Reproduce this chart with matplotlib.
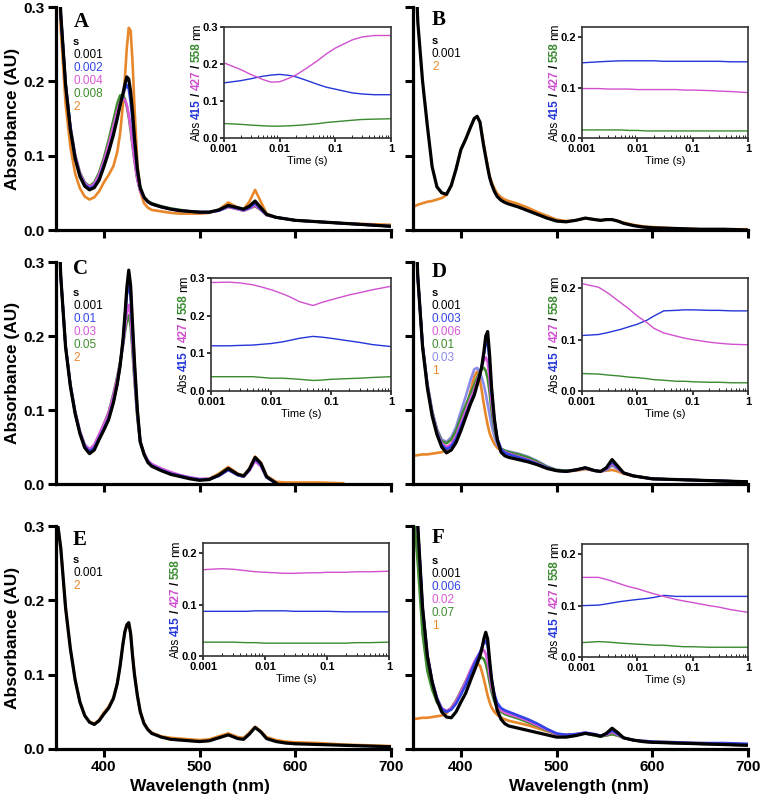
import numpy as np
import matplotlib
matplotlib.use('Agg')
import matplotlib.pyplot as plt
import matplotlib.transforms as mtransforms
from matplotlib.ticker import LogLocator, NullFormatter

nan = np.nan

# --- Data: spectra (absorbance vs wavelength)
wavelength = [350, 355, 360, 365, 370, 375, 380, 385, 390, 395, 400, 405, 410, 414, 417, 420,
              422, 424, 426, 428, 430, 432, 435, 438, 442, 446, 450, 460, 470, 480, 490, 500,
              510, 520, 530, 540, 546, 552, 558, 564, 570, 580, 590, 600, 625, 650, 675, 700]

A_black = [0.45, 0.29, 0.195, 0.135, 0.096, 0.072, 0.059, 0.054, 0.057, 0.067, 0.085, 0.105, 0.128, 0.150, 0.168, 0.184,
           0.196, 0.206, 0.203, 0.186, 0.158, 0.124, 0.082, 0.057, 0.044, 0.038, 0.035, 0.031, 0.028, 0.026, 0.025, 0.024,
           0.024, 0.027, 0.033, 0.030, 0.028, 0.032, 0.039, 0.030, 0.021, 0.017, 0.015, 0.013, 0.011, 0.009, 0.007, 0.005]
A_blue = [0.45, 0.29, 0.196, 0.137, 0.098, 0.074, 0.061, 0.056, 0.059, 0.069, 0.087, 0.107, 0.130, 0.151, 0.168, 0.182,
          0.190, 0.195, 0.190, 0.172, 0.146, 0.115, 0.078, 0.056, 0.044, 0.038, 0.035, 0.031, 0.028, 0.026, 0.025, 0.024,
          0.024, 0.026, 0.032, 0.029, 0.027, 0.030, 0.036, 0.028, 0.021, 0.017, 0.015, 0.013, 0.011, 0.009, 0.007, 0.005]
A_magenta = [0.45, 0.29, 0.197, 0.139, 0.100, 0.076, 0.063, 0.058, 0.062, 0.074, 0.093, 0.115, 0.140, 0.160, 0.172, 0.177,
             0.175, 0.168, 0.155, 0.137, 0.115, 0.094, 0.068, 0.052, 0.043, 0.038, 0.035, 0.031, 0.028, 0.026, 0.025, 0.024,
             0.024, 0.026, 0.031, 0.028, 0.026, 0.029, 0.033, 0.027, 0.020, 0.017, 0.015, 0.013, 0.011, 0.009, 0.007, 0.005]
A_green = [0.45, 0.29, 0.198, 0.140, 0.101, 0.077, 0.064, 0.059, 0.064, 0.077, 0.097, 0.121, 0.148, 0.170, 0.181, 0.181,
           0.176, 0.166, 0.152, 0.134, 0.113, 0.093, 0.068, 0.053, 0.044, 0.039, 0.036, 0.032, 0.029, 0.027, 0.025, 0.024,
           0.024, 0.026, 0.031, 0.028, 0.026, 0.029, 0.032, 0.027, 0.020, 0.017, 0.015, 0.013, 0.011, 0.009, 0.007, 0.005]
A_orange = [0.45, 0.27, 0.17, 0.112, 0.076, 0.056, 0.045, 0.041, 0.044, 0.052, 0.064, 0.074, 0.086, 0.105, 0.130, 0.170,
            0.205, 0.245, 0.272, 0.268, 0.225, 0.165, 0.090, 0.052, 0.036, 0.030, 0.027, 0.025, 0.023, 0.022, 0.022, 0.022,
            0.023, 0.027, 0.037, 0.030, 0.028, 0.038, 0.054, 0.038, 0.022, 0.017, 0.015, 0.013, 0.011, 0.009, 0.008, 0.007]

B_black = [0.45, 0.28, 0.2, 0.14, 0.085, 0.058, 0.05, 0.048, 0.06, 0.082, 0.108, 0.122, 0.138, 0.150, 0.153, 0.145,
           0.128, 0.112, 0.098, 0.084, 0.071, 0.062, 0.052, 0.045, 0.040, 0.037, 0.035, 0.031, 0.026, 0.021, 0.016, 0.012,
           0.011, 0.013, 0.016, 0.014, 0.013, 0.014, 0.014, 0.012, 0.009, 0.006, 0.004, 0.003, 0.002, 0.001, 0.001, 0.0]
B_orange = [0.031, 0.034, 0.036, 0.038, 0.039, 0.041, 0.043, 0.047, 0.06, 0.082, 0.108, 0.122, 0.138, 0.150, 0.152, 0.145,
            0.130, 0.115, 0.100, 0.086, 0.073, 0.065, 0.056, 0.049, 0.044, 0.041, 0.039, 0.035, 0.030, 0.024, 0.019, 0.014,
            0.012, 0.013, 0.016, 0.014, 0.013, 0.014, 0.014, 0.012, 0.010, 0.007, 0.005, 0.004, 0.002, 0.001, 0.001, 0.001]

C_black = [0.45, 0.28, 0.185, 0.132, 0.095, 0.068, 0.049, 0.041, 0.046, 0.060, 0.073, 0.087, 0.110, 0.135, 0.160, 0.195,
           0.228, 0.265, 0.289, 0.268, 0.215, 0.165, 0.100, 0.057, 0.040, 0.029, 0.024, 0.018, 0.013, 0.010, 0.007, 0.005,
           0.006, 0.012, 0.021, 0.013, 0.011, 0.020, 0.036, 0.028, 0.010, 0.001, nan, nan, nan, nan, nan, nan]
C_blue = [0.45, 0.28, 0.186, 0.133, 0.096, 0.069, 0.051, 0.044, 0.049, 0.062, 0.075, 0.089, 0.112, 0.136, 0.160, 0.192,
          0.222, 0.255, 0.272, 0.252, 0.205, 0.158, 0.097, 0.057, 0.040, 0.030, 0.025, 0.019, 0.014, 0.011, 0.008, 0.006,
          0.006, 0.011, 0.019, 0.012, 0.010, 0.019, 0.034, 0.026, 0.009, 0.001, nan, nan, nan, nan, nan, nan]
C_magenta = [0.45, 0.28, 0.187, 0.135, 0.098, 0.071, 0.053, 0.047, 0.053, 0.067, 0.081, 0.096, 0.120, 0.143, 0.163, 0.188,
             0.210, 0.232, 0.242, 0.226, 0.186, 0.145, 0.092, 0.057, 0.042, 0.032, 0.027, 0.021, 0.016, 0.012, 0.009, 0.007,
             0.007, 0.011, 0.019, 0.012, 0.010, 0.018, 0.031, 0.024, 0.009, 0.001, nan, nan, nan, nan, nan, nan]
C_green = [0.45, 0.28, 0.187, 0.135, 0.098, 0.071, 0.053, 0.046, 0.052, 0.066, 0.081, 0.097, 0.122, 0.145, 0.165, 0.187,
           0.205, 0.220, 0.228, 0.213, 0.177, 0.139, 0.089, 0.056, 0.041, 0.031, 0.026, 0.020, 0.015, 0.011, 0.008, 0.006,
           0.007, 0.011, 0.020, 0.012, 0.010, 0.019, 0.033, 0.025, 0.009, 0.001, nan, nan, nan, nan, nan, nan]
C_orange = [0.45, 0.28, 0.186, 0.133, 0.096, 0.069, 0.050, 0.042, 0.047, 0.060, 0.074, 0.088, 0.111, 0.136, 0.160, 0.195,
            0.226, 0.262, 0.285, 0.265, 0.213, 0.164, 0.100, 0.058, 0.041, 0.030, 0.025, 0.019, 0.014, 0.011, 0.008, 0.006,
            0.007, 0.014, 0.023, 0.014, 0.011, 0.021, 0.037, 0.029, 0.011, 0.003, 0.002, 0.002, 0.002, 0.001, nan, nan]

D_black = [0.45, 0.28, 0.185, 0.130, 0.092, 0.067, 0.050, 0.042, 0.046, 0.056, 0.072, 0.090, 0.108, 0.120, 0.134, 0.148,
           0.160, 0.178, 0.200, 0.206, 0.175, 0.132, 0.088, 0.060, 0.043, 0.038, 0.036, 0.033, 0.030, 0.026, 0.021, 0.018,
           0.017, 0.019, 0.022, 0.018, 0.017, 0.022, 0.033, 0.024, 0.015, 0.011, 0.009, 0.007, 0.006, 0.005, 0.004, 0.003]
D_blue = [0.45, 0.28, 0.186, 0.132, 0.094, 0.069, 0.053, 0.047, 0.051, 0.061, 0.077, 0.093, 0.110, 0.122, 0.135, 0.148,
          0.160, 0.175, 0.190, 0.193, 0.165, 0.126, 0.087, 0.062, 0.047, 0.042, 0.040, 0.036, 0.032, 0.027, 0.022, 0.018,
          0.017, 0.019, 0.022, 0.018, 0.017, 0.021, 0.030, 0.022, 0.015, 0.011, 0.009, 0.007, 0.006, 0.005, 0.004, 0.003]
D_magenta = [0.45, 0.28, 0.187, 0.134, 0.096, 0.071, 0.055, 0.050, 0.054, 0.065, 0.082, 0.098, 0.115, 0.127, 0.139, 0.150,
             0.159, 0.167, 0.171, 0.165, 0.142, 0.112, 0.080, 0.060, 0.047, 0.043, 0.041, 0.037, 0.033, 0.028, 0.022, 0.018,
             0.017, 0.019, 0.021, 0.018, 0.017, 0.020, 0.028, 0.021, 0.015, 0.011, 0.009, 0.007, 0.006, 0.005, 0.004, 0.003]
D_green = [0.45, 0.28, 0.188, 0.135, 0.098, 0.073, 0.058, 0.055, 0.060, 0.072, 0.090, 0.106, 0.122, 0.134, 0.144, 0.152,
           0.156, 0.157, 0.153, 0.143, 0.124, 0.100, 0.074, 0.058, 0.048, 0.045, 0.043, 0.040, 0.036, 0.030, 0.023, 0.019,
           0.018, 0.019, 0.021, 0.018, 0.017, 0.020, 0.027, 0.021, 0.015, 0.011, 0.009, 0.007, 0.006, 0.005, 0.004, 0.003]
D_lavender = [0.45, 0.28, 0.188, 0.136, 0.099, 0.074, 0.060, 0.057, 0.063, 0.077, 0.098, 0.118, 0.140, 0.155, 0.157, 0.150,
              0.143, 0.134, 0.122, 0.108, 0.094, 0.080, 0.064, 0.053, 0.047, 0.045, 0.044, 0.041, 0.037, 0.031, 0.024, 0.019,
              0.018, 0.019, 0.021, 0.018, 0.017, 0.019, 0.025, 0.020, 0.015, 0.011, 0.009, 0.007, 0.006, 0.005, 0.004, 0.003]
D_orange = [0.038, 0.039, 0.040, 0.040, 0.041, 0.042, 0.043, 0.046, 0.053, 0.065, 0.080, 0.098, 0.125, 0.145, 0.152, 0.140,
            0.125, 0.108, 0.093, 0.080, 0.069, 0.062, 0.054, 0.049, 0.045, 0.043, 0.041, 0.037, 0.033, 0.028, 0.022, 0.018,
            0.017, 0.018, 0.020, 0.018, 0.017, 0.018, 0.019, 0.017, 0.014, 0.011, 0.009, 0.007, 0.006, 0.005, 0.004, 0.003]

E_black = [0.32, 0.27, 0.19, 0.135, 0.093, 0.063, 0.045, 0.036, 0.033, 0.038, 0.047, 0.055, 0.068, 0.088, 0.112, 0.142,
           0.158, 0.167, 0.170, 0.155, 0.125, 0.100, 0.072, 0.050, 0.034, 0.026, 0.021, 0.016, 0.013, 0.012, 0.011, 0.010,
           0.011, 0.015, 0.019, 0.014, 0.013, 0.020, 0.029, 0.023, 0.014, 0.010, 0.008, 0.007, 0.006, 0.005, 0.004, 0.003]
E_orange = [0.32, 0.27, 0.19, 0.135, 0.093, 0.063, 0.045, 0.037, 0.034, 0.039, 0.049, 0.057, 0.069, 0.088, 0.112, 0.141,
            0.157, 0.166, 0.169, 0.155, 0.126, 0.101, 0.073, 0.051, 0.035, 0.027, 0.022, 0.017, 0.015, 0.014, 0.013, 0.012,
            0.013, 0.017, 0.021, 0.016, 0.015, 0.022, 0.030, 0.024, 0.016, 0.012, 0.010, 0.009, 0.008, 0.006, 0.005, 0.004]

F_black = [0.40, 0.30, 0.190, 0.125, 0.090, 0.066, 0.050, 0.043, 0.042, 0.050, 0.063, 0.075, 0.092, 0.105, 0.115, 0.125,
           0.135, 0.148, 0.157, 0.148, 0.120, 0.095, 0.070, 0.052, 0.040, 0.034, 0.031, 0.028, 0.025, 0.022, 0.019, 0.016,
           0.016, 0.018, 0.021, 0.019, 0.017, 0.021, 0.028, 0.022, 0.015, 0.012, 0.010, 0.009, 0.008, 0.007, 0.006, 0.005]
F_blue = [0.40, 0.30, 0.190, 0.126, 0.091, 0.068, 0.054, 0.050, 0.053, 0.061, 0.073, 0.086, 0.102, 0.114, 0.122, 0.130,
          0.137, 0.143, 0.146, 0.138, 0.115, 0.094, 0.074, 0.062, 0.055, 0.052, 0.050, 0.045, 0.040, 0.034, 0.027, 0.021,
          0.019, 0.020, 0.022, 0.020, 0.018, 0.020, 0.025, 0.020, 0.015, 0.012, 0.011, 0.010, 0.009, 0.008, 0.008, 0.007]
F_magenta = [0.40, 0.30, 0.190, 0.127, 0.092, 0.069, 0.055, 0.051, 0.055, 0.064, 0.077, 0.090, 0.106, 0.117, 0.124, 0.130,
             0.133, 0.133, 0.128, 0.118, 0.100, 0.084, 0.068, 0.058, 0.052, 0.049, 0.047, 0.043, 0.038, 0.032, 0.026, 0.020,
             0.019, 0.020, 0.022, 0.019, 0.018, 0.019, 0.023, 0.019, 0.015, 0.012, 0.010, 0.009, 0.008, 0.007, 0.006, 0.005]
F_green = [0.33, 0.25, 0.155, 0.105, 0.080, 0.063, 0.054, 0.050, 0.055, 0.065, 0.078, 0.091, 0.105, 0.114, 0.119, 0.122,
           0.123, 0.121, 0.115, 0.104, 0.090, 0.077, 0.064, 0.056, 0.050, 0.047, 0.045, 0.041, 0.036, 0.031, 0.025, 0.020,
           0.019, 0.019, 0.021, 0.018, 0.017, 0.018, 0.020, 0.018, 0.015, 0.012, 0.010, 0.009, 0.008, 0.007, 0.006, 0.005]
F_orange = [0.040, 0.041, 0.042, 0.042, 0.043, 0.044, 0.045, 0.048, 0.055, 0.065, 0.075, 0.088, 0.100, 0.110, 0.116, 0.112,
            0.104, 0.094, 0.083, 0.072, 0.063, 0.056, 0.050, 0.046, 0.042, 0.040, 0.038, 0.035, 0.032, 0.028, 0.024, 0.020,
            0.019, 0.020, 0.021, 0.019, 0.018, 0.019, 0.020, 0.018, 0.015, 0.012, 0.011, 0.010, 0.009, 0.008, 0.007, 0.006]

# --- Data: kinetic traces at 415 / 427 / 558 nm (insets)
time_s = [0.001, 0.002, 0.003, 0.005, 0.007, 0.01, 0.015, 0.02, 0.03, 0.05, 0.07, 0.1, 0.2, 0.3, 0.5, 1.0]

A_415 = [0.149, 0.155, 0.160, 0.167, 0.170, 0.172, 0.169, 0.165, 0.156, 0.144, 0.137, 0.132, 0.122, 0.119, 0.117, 0.117]
A_427 = [0.203, 0.185, 0.172, 0.158, 0.151, 0.152, 0.162, 0.171, 0.188, 0.211, 0.228, 0.243, 0.265, 0.273, 0.277, 0.277]
A_558 = [0.039, 0.037, 0.035, 0.033, 0.032, 0.032, 0.033, 0.034, 0.036, 0.039, 0.042, 0.044, 0.048, 0.050, 0.051, 0.052]

B_415 = [0.149, 0.151, 0.152, 0.153, 0.153, 0.153, 0.153, 0.153, 0.152, 0.152, 0.152, 0.152, 0.152, 0.152, 0.151, 0.151]
B_427 = [0.098, 0.098, 0.097, 0.097, 0.097, 0.096, 0.096, 0.096, 0.096, 0.096, 0.095, 0.095, 0.094, 0.093, 0.092, 0.090]
B_558 = [0.016, 0.016, 0.016, 0.016, 0.015, 0.015, 0.014, 0.014, 0.014, 0.014, 0.014, 0.014, 0.014, 0.014, 0.014, 0.014]

C_415 = [0.120, 0.120, 0.121, 0.122, 0.124, 0.126, 0.130, 0.134, 0.140, 0.145, 0.143, 0.140, 0.133, 0.129, 0.123, 0.118]
C_427 = [0.288, 0.289, 0.287, 0.282, 0.276, 0.269, 0.259, 0.251, 0.237, 0.227, 0.235, 0.242, 0.255, 0.261, 0.269, 0.278]
C_558 = [0.038, 0.038, 0.038, 0.038, 0.036, 0.034, 0.034, 0.033, 0.031, 0.028, 0.029, 0.031, 0.033, 0.034, 0.036, 0.038]

D_415 = [0.108, 0.110, 0.114, 0.120, 0.125, 0.130, 0.138, 0.146, 0.156, 0.157, 0.158, 0.158, 0.157, 0.157, 0.156, 0.156]
D_427 = [0.209, 0.202, 0.190, 0.172, 0.160, 0.146, 0.133, 0.122, 0.113, 0.107, 0.103, 0.100, 0.095, 0.093, 0.091, 0.090]
D_558 = [0.034, 0.033, 0.031, 0.029, 0.027, 0.026, 0.024, 0.022, 0.021, 0.019, 0.019, 0.018, 0.017, 0.017, 0.016, 0.016]

E_415 = [0.087, 0.087, 0.087, 0.087, 0.088, 0.088, 0.088, 0.088, 0.087, 0.087, 0.087, 0.087, 0.086, 0.086, 0.086, 0.086]
E_427 = [0.168, 0.170, 0.169, 0.166, 0.164, 0.163, 0.162, 0.161, 0.161, 0.162, 0.162, 0.163, 0.163, 0.164, 0.164, 0.165]
E_558 = [0.027, 0.027, 0.027, 0.026, 0.026, 0.025, 0.025, 0.025, 0.025, 0.025, 0.025, 0.025, 0.025, 0.026, 0.026, 0.027]

F_415 = [0.100, 0.101, 0.104, 0.108, 0.110, 0.112, 0.114, 0.116, 0.120, 0.118, 0.118, 0.118, 0.118, 0.118, 0.118, 0.118]
F_427 = [0.155, 0.155, 0.150, 0.142, 0.137, 0.133, 0.127, 0.123, 0.118, 0.112, 0.109, 0.106, 0.100, 0.097, 0.092, 0.087]
F_558 = [0.028, 0.030, 0.029, 0.027, 0.026, 0.025, 0.024, 0.023, 0.023, 0.021, 0.020, 0.020, 0.019, 0.019, 0.019, 0.019]

# legend labels (time in s)
A_times = ['0.001', '0.002', '0.004', '0.008', '2']
B_times = ['0.001', '2']
C_times = ['0.001', '0.01', '0.03', '0.05', '2']
D_times = ['0.001', '0.003', '0.006', '0.01', '0.03', '1']
E_times = ['0.001', '2']
F_times = ['0.001', '0.006', '0.02', '0.07', '1']

# --- Styles
BLACK = '#000000'
BLUE = '#3344e6'
MAGENTA = '#db5ad8'
GREEN = '#3f8c2e'
ORANGE = '#e8872a'
LAVENDER = '#8c8ce8'
IN_BLUE = '#2436d8'
IN_MAGENTA = '#d050d0'
IN_GREEN = '#3a8a30'

plt.rcParams['font.family'] = ['Liberation Sans', 'DejaVu Sans']

W, H = 762, 799
fig = plt.figure(figsize=(W / 100, H / 100), dpi=100)


def box(x0, y0, x1, y1):
    return [x0 / W, 1 - y1 / H, (x1 - x0) / W, (y1 - y0) / H]


panels = [
    ('A', (56, 7, 391, 230), (224, 27, 391, 138), 0.3, A_times,
     [A_black, A_blue, A_magenta, A_green, A_orange], [BLACK, BLUE, MAGENTA, GREEN, ORANGE],
     (A_415, A_427, A_558), (74, 22), (73, 42)),
    ('B', (413, 7, 748, 230), (582, 27, 748, 138), 0.22, B_times,
     [B_black, B_orange], [BLACK, ORANGE],
     (B_415, B_427, B_558), (432, 20), (432, 41)),
    ('C', (56, 262, 391, 484), (211, 278, 391, 391), 0.3, C_times,
     [C_black, C_blue, C_magenta, C_green, C_orange], [BLACK, BLUE, MAGENTA, GREEN, ORANGE],
     (C_415, C_427, C_558), (73, 269), (73, 293)),
    ('D', (413, 262, 748, 484), (582, 278, 748, 391), 0.22, D_times,
     [D_black, D_blue, D_magenta, D_green, D_lavender, D_orange],
     [BLACK, BLUE, MAGENTA, GREEN, LAVENDER, ORANGE],
     (D_415, D_427, D_558), (432, 272), (432, 293)),
    ('E', (56, 526, 391, 749), (203, 543, 389, 656), 0.22, E_times,
     [E_black, E_orange], [BLACK, ORANGE],
     (E_415, E_427, E_558), (73, 540), (73, 560)),
    ('F', (413, 526, 748, 749), (582, 544, 748, 657), 0.22, F_times,
     [F_black, F_blue, F_magenta, F_green, F_orange], [BLACK, BLUE, MAGENTA, GREEN, ORANGE],
     (F_415, F_427, F_558), (432, 538), (432, 561)),
]

renderer = fig.canvas.get_renderer()


def colour_ylabel(ax, pieces, dx, size):
    # multi-coloured vertical label, built piece by piece from the bottom up
    gap = 2.6
    texts = []
    for s, c, w in pieces:
        t = ax.text(0, 0.5, s, color=c, fontweight=w, fontsize=size, rotation=90,
                    ha='center', va='bottom', transform=ax.transAxes)
        texts.append(t)
    heights = [t.get_window_extent(renderer).height for t in texts]
    total = sum(heights) + gap * (len(texts) - 1)
    y = -total / 2
    for t, h in zip(texts, heights):
        t.set_transform(mtransforms.offset_copy(ax.transAxes, fig=fig, x=dx, y=y, units='dots'))
        y += h + gap


for idx, (letter, mbox, ibox, iy_max, times, traces, cols, kin, lpos, legpos) in enumerate(panels):
    left_col = idx % 2 == 0
    bottom_row = idx >= 4

    ax = fig.add_axes(box(*mbox))
    for y, c in reversed(list(zip(traces, cols))):
        ax.plot(wavelength, y, color=c, lw=2.3 if c == BLACK else 1.9, solid_joinstyle='round')
    ax.set_xlim(350, 700)
    ax.set_ylim(0, 0.3)
    ax.set_xticks([400, 500, 600, 700])
    ax.set_yticks([0.0, 0.1, 0.2, 0.3])
    ax.set_yticklabels(['0.0', '0.1', '0.2', '0.3'] if left_col else [])
    if not bottom_row:
        ax.set_xticklabels([])
    for s in ('top', 'right'):
        ax.spines[s].set_visible(False)
    for s in ('left', 'bottom'):
        ax.spines[s].set_linewidth(2.3)
    ax.tick_params(direction='out', length=6, width=2.2, labelsize=11, pad=2)
    for lab in ax.get_xticklabels() + ax.get_yticklabels():
        lab.set_fontweight('bold')

    if left_col:
        cy = 1 - (mbox[1] + mbox[3]) / 2 / H
        fig.text(13 / W, cy, 'Absorbance (AU)', rotation=90, ha='center', va='center',
                 fontsize=12.5, fontweight='bold')
    if bottom_row:
        fig.text((200 if left_col else 579) / W, 1 - 786 / H, 'Wavelength (nm)',
                 ha='center', va='center', fontsize=12.5, fontweight='bold')

    # panel letter and legend
    fig.text(lpos[0] / W, 1 - lpos[1] / H, letter, family='Liberation Serif',
             fontweight='bold', fontsize=15, ha='left', va='center')
    fig.text(legpos[0] / W, 1 - legpos[1] / H, 's', fontsize=8, fontweight='bold',
             ha='left', va='center')
    for k, (lab, c) in enumerate(zip(times, cols)):
        fig.text(legpos[0] / W, 1 - (legpos[1] + 13 * (k + 1)) / H, lab, color=c,
                 fontsize=8.5, ha='left', va='center')

    # inset: kinetics
    ins = fig.add_axes(box(*ibox))
    ins.set_facecolor('white')
    for y, c in zip(kin, [IN_BLUE, IN_MAGENTA, IN_GREEN]):
        ins.plot(time_s, y, color=c, lw=1.0)
    ins.set_xscale('log')
    ins.set_xlim(0.001, 1)
    ins.set_ylim(0, iy_max)
    ins.set_xticks([0.001, 0.01, 0.1, 1])
    ins.set_xticklabels(['0.001', '0.01', '0.1', '1'])
    ins.xaxis.set_minor_locator(LogLocator(base=10, subs=range(2, 10)))
    ins.xaxis.set_minor_formatter(NullFormatter())
    if iy_max > 0.25:
        ins.set_yticks([0.0, 0.1, 0.2, 0.3])
        ins.set_yticklabels(['0.0', '0.1', '0.2', '0.3'])
    else:
        ins.set_yticks([0.0, 0.1, 0.2])
        ins.set_yticklabels(['0.0', '0.1', '0.2'])
    for s in ins.spines.values():
        s.set_linewidth(1.2)
        s.set_color('#333333')
    ins.tick_params(which='major', direction='out', length=3, width=1.1, labelsize=8, pad=1.5)
    ins.tick_params(which='minor', direction='in', length=2.2, width=0.6)
    for lab in ins.get_xticklabels() + ins.get_yticklabels():
        lab.set_fontweight('bold')
    ins.set_xlabel('Time (s)', fontsize=8, labelpad=1)
    colour_ylabel(ins, [('Abs', BLACK, 'normal'), ('415', IN_BLUE, 'bold'), ('/', BLACK, 'bold'),
                        ('427', IN_MAGENTA, 'bold'), ('/', BLACK, 'bold'),
                        ('558', IN_GREEN, 'bold'), ('nm', BLACK, 'normal')], dx=-27, size=8.5)

fig.savefig('out.png', dpi=100)
